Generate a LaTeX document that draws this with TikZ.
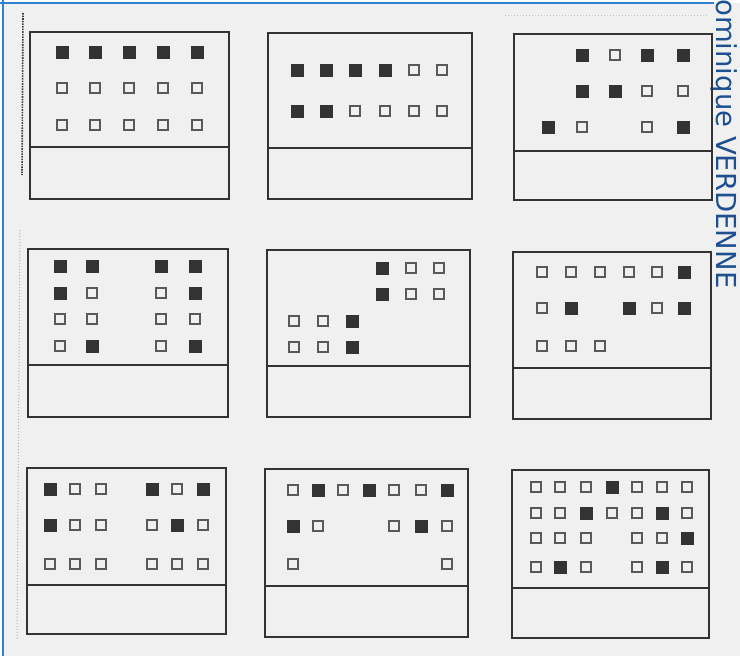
\documentclass[tikz,border=0pt]{standalone}
\usepackage{fontspec}
\newfontfamily\signfont{DejaVu Sans}
\definecolor{scanblue}{RGB}{47,128,208}
\definecolor{inkblue}{RGB}{30,80,145}
\definecolor{paper}{RGB}{240,240,240}
\tikzstyle{card}=[draw=black!80, line width=1.6pt]
\tikzstyle{full}=[rectangle, fill=black!80, draw=black!80, minimum size=11.6pt, inner sep=0pt]
\tikzstyle{hollow}=[rectangle, draw=black!65, line width=1.7pt, minimum size=10.3pt, inner sep=0pt]
\tikzstyle{frame}=[draw=scanblue, line width=2pt]

\begin{document}
\begin{tikzpicture}[x=1pt, y=-1pt]
	\useasboundingbox (0,0) rectangle (740,656);
	\fill [white] (0,0) rectangle (740,656);
	\fill [paper] (3,3) rectangle (740,656);
	\draw [style=frame] (0,3) -- (714,3);
	\draw [style=frame] (3,0) -- (3,656);
	% scan marks
	\draw [black!75, line width=1.6pt, densely dotted] (23,13) -- (22,175);
	\draw [black!30, line width=1pt, dotted] (20,230) -- (17,640);
	\draw [black!25, line width=1pt, dotted] (505,15) -- (708,15);
	% signature
	\node [rotate=-90, anchor=base west, text=inkblue, font=\signfont\fontsize{27.5}{30}\selectfont, inner sep=0pt] (sign) at (716,-1) {ominique VERDENNE};
	% cards
	\draw [style=card] (30,32) rectangle (229,199); \draw [style=card] (30,147) -- (229,147);
	\draw [style=card] (268,33) rectangle (472,199); \draw [style=card] (268,148) -- (472,148);
	\draw [style=card] (514,34) rectangle (712,200); \draw [style=card] (514,151) -- (712,151);
	\draw [style=card] (28,249) rectangle (228,417); \draw [style=card] (28,365) -- (228,365);
	\draw [style=card] (267,250) rectangle (470,417); \draw [style=card] (267,366) -- (470,366);
	\draw [style=card] (513,252) rectangle (711,419); \draw [style=card] (513,368) -- (711,368);
	\draw [style=card] (27,468) rectangle (226,634); \draw [style=card] (27,585) -- (226,585);
	\draw [style=card] (265,469) rectangle (468,637); \draw [style=card] (265,586) -- (468,586);
	\draw [style=card] (512,470) rectangle (709,638); \draw [style=card] (512,588) -- (709,588);
	% card 1
	\node [style=full] (a1) at (62,52) {}; \node [style=full] (a2) at (95,52) {}; \node [style=full] (a3) at (129,52) {}; \node [style=full] (a4) at (163,52) {}; \node [style=full] (a5) at (197,52) {};
	\node [style=hollow] (a6) at (62,88) {}; \node [style=hollow] (a7) at (95,88) {}; \node [style=hollow] (a8) at (129,88) {}; \node [style=hollow] (a9) at (163,88) {}; \node [style=hollow] (a10) at (197,88) {};
	\node [style=hollow] (a11) at (62,125) {}; \node [style=hollow] (a12) at (95,125) {}; \node [style=hollow] (a13) at (129,125) {}; \node [style=hollow] (a14) at (163,125) {}; \node [style=hollow] (a15) at (197,125) {};
	% card 2
	\node [style=full] (b1) at (297,70) {}; \node [style=full] (b2) at (326,70) {}; \node [style=full] (b3) at (355,70) {}; \node [style=full] (b4) at (385,70) {}; \node [style=hollow] (b5) at (414,70) {}; \node [style=hollow] (b6) at (442,70) {};
	\node [style=full] (b7) at (297,111) {}; \node [style=full] (b8) at (326,111) {}; \node [style=hollow] (b9) at (355,111) {}; \node [style=hollow] (b10) at (385,111) {}; \node [style=hollow] (b11) at (414,111) {}; \node [style=hollow] (b12) at (442,111) {};
	% card 3
	\node [style=full] (c1) at (582,55) {}; \node [style=hollow] (c2) at (615,55) {}; \node [style=full] (c3) at (647,55) {}; \node [style=full] (c4) at (683,55) {};
	\node [style=full] (c5) at (582,91) {}; \node [style=full] (c6) at (615,91) {}; \node [style=hollow] (c7) at (647,91) {}; \node [style=hollow] (c8) at (683,91) {};
	\node [style=full] (c9) at (548,127) {}; \node [style=hollow] (c10) at (582,127) {}; \node [style=hollow] (c11) at (647,127) {}; \node [style=full] (c12) at (683,127) {};
	% card 4
	\node [style=full] (d1) at (60,266) {}; \node [style=full] (d2) at (92,266) {}; \node [style=full] (d3) at (161,266) {}; \node [style=full] (d4) at (195,266) {};
	\node [style=full] (d5) at (60,293) {}; \node [style=hollow] (d6) at (92,293) {}; \node [style=hollow] (d7) at (161,293) {}; \node [style=full] (d8) at (195,293) {};
	\node [style=hollow] (d9) at (60,319) {}; \node [style=hollow] (d10) at (92,319) {}; \node [style=hollow] (d11) at (161,319) {}; \node [style=hollow] (d12) at (195,319) {};
	\node [style=hollow] (d13) at (60,346) {}; \node [style=full] (d14) at (92,346) {}; \node [style=hollow] (d15) at (161,346) {}; \node [style=full] (d16) at (195,346) {};
	% card 5
	\node [style=full] (e1) at (382,268) {}; \node [style=hollow] (e2) at (411,268) {}; \node [style=hollow] (e3) at (439,268) {};
	\node [style=full] (e4) at (382,294) {}; \node [style=hollow] (e5) at (411,294) {}; \node [style=hollow] (e6) at (439,294) {};
	\node [style=hollow] (e7) at (294,321) {}; \node [style=hollow] (e8) at (323,321) {}; \node [style=full] (e9) at (352,321) {};
	\node [style=hollow] (e10) at (294,347) {}; \node [style=hollow] (e11) at (323,347) {}; \node [style=full] (e12) at (352,347) {};
	% card 6
	\node [style=hollow] (f1) at (542,272) {}; \node [style=hollow] (f2) at (571,272) {}; \node [style=hollow] (f3) at (600,272) {}; \node [style=hollow] (f4) at (629,272) {}; \node [style=hollow] (f5) at (657,272) {}; \node [style=full] (f6) at (684,272) {};
	\node [style=hollow] (f7) at (542,308) {}; \node [style=full] (f8) at (571,308) {}; \node [style=full] (f9) at (629,308) {}; \node [style=hollow] (f10) at (657,308) {}; \node [style=full] (f11) at (684,308) {};
	\node [style=hollow] (f12) at (542,346) {}; \node [style=hollow] (f13) at (571,346) {}; \node [style=hollow] (f14) at (600,346) {};
	% card 7
	\node [style=full] (g1) at (50,489) {}; \node [style=hollow] (g2) at (75,489) {}; \node [style=hollow] (g3) at (101,489) {}; \node [style=full] (g4) at (152,489) {}; \node [style=hollow] (g5) at (177,489) {}; \node [style=full] (g6) at (203,489) {};
	\node [style=full] (g7) at (50,525) {}; \node [style=hollow] (g8) at (75,525) {}; \node [style=hollow] (g9) at (101,525) {}; \node [style=hollow] (g10) at (152,525) {}; \node [style=full] (g11) at (177,525) {}; \node [style=hollow] (g12) at (203,525) {};
	\node [style=hollow] (g13) at (50,564) {}; \node [style=hollow] (g14) at (75,564) {}; \node [style=hollow] (g15) at (101,564) {}; \node [style=hollow] (g16) at (152,564) {}; \node [style=hollow] (g17) at (177,564) {}; \node [style=hollow] (g18) at (203,564) {};
	% card 8
	\node [style=hollow] (h1) at (293,490) {}; \node [style=full] (h2) at (318,490) {}; \node [style=hollow] (h3) at (343,490) {}; \node [style=full] (h4) at (369,490) {}; \node [style=hollow] (h5) at (394,490) {}; \node [style=hollow] (h6) at (421,490) {}; \node [style=full] (h7) at (447,490) {};
	\node [style=full] (h8) at (293,526) {}; \node [style=hollow] (h9) at (318,526) {}; \node [style=hollow] (h10) at (394,526) {}; \node [style=full] (h11) at (421,526) {}; \node [style=hollow] (h12) at (447,526) {};
	\node [style=hollow] (h13) at (293,564) {}; \node [style=hollow] (h14) at (447,564) {};
	% card 9
	\node [style=hollow] (i1) at (536,487) {}; \node [style=hollow] (i2) at (560,487) {}; \node [style=hollow] (i3) at (586,487) {}; \node [style=full] (i4) at (612,487) {}; \node [style=hollow] (i5) at (637,487) {}; \node [style=hollow] (i6) at (662,487) {}; \node [style=hollow] (i7) at (687,487) {};
	\node [style=hollow] (i8) at (536,513) {}; \node [style=hollow] (i9) at (560,513) {}; \node [style=full] (i10) at (586,513) {}; \node [style=hollow] (i11) at (612,513) {}; \node [style=hollow] (i12) at (637,513) {}; \node [style=full] (i13) at (662,513) {}; \node [style=hollow] (i14) at (687,513) {};
	\node [style=hollow] (i15) at (536,538) {}; \node [style=hollow] (i16) at (560,538) {}; \node [style=hollow] (i17) at (586,538) {}; \node [style=hollow] (i18) at (637,538) {}; \node [style=hollow] (i19) at (662,538) {}; \node [style=full] (i20) at (687,538) {};
	\node [style=hollow] (i21) at (536,567) {}; \node [style=full] (i22) at (560,567) {}; \node [style=hollow] (i23) at (586,567) {}; \node [style=hollow] (i24) at (637,567) {}; \node [style=full] (i25) at (662,567) {}; \node [style=hollow] (i26) at (687,567) {};
\end{tikzpicture}
\end{document}
